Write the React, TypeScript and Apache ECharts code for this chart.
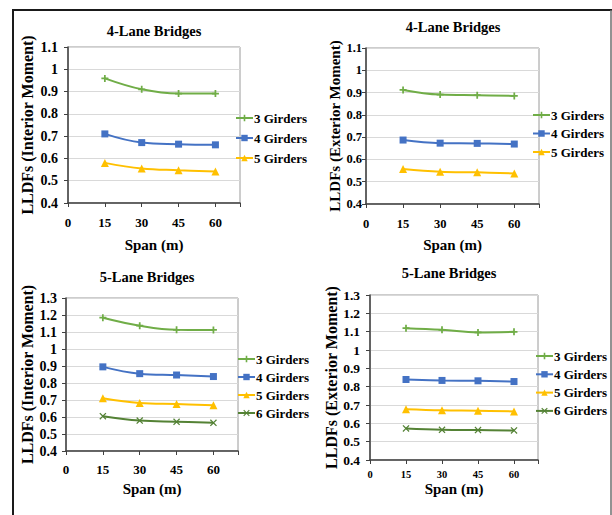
import React, { useEffect, useRef } from 'react';
import * as echarts from 'echarts';

const spans = [15, 30, 45, 60];
const seriesNames = ['3 Girders', '4 Girders', '5 Girders', '6 Girders'];
const titles = ['4-Lane Bridges', '4-Lane Bridges', '5-Lane Bridges', '5-Lane Bridges'];
const yNames = ['LLDFs (Interior Moment)', 'LLDFs (Exterior Moment)', 'LLDFs (Interior Moment)', 'LLDFs (Exterior Moment)'];
const xName = 'Span (m)';

const p1Girders3 = [0.959, 0.91, 0.891, 0.891];
const p1Girders4 = [0.71, 0.671, 0.664, 0.661];
const p1Girders5 = [0.58, 0.555, 0.547, 0.541];

const p2Girders3 = [0.912, 0.891, 0.888, 0.885];
const p2Girders4 = [0.687, 0.673, 0.672, 0.669];
const p2Girders5 = [0.557, 0.545, 0.542, 0.537];

const p3Girders3 = [1.184, 1.137, 1.113, 1.112];
const p3Girders4 = [0.895, 0.855, 0.847, 0.838];
const p3Girders5 = [0.71, 0.682, 0.676, 0.669];
const p3Girders6 = [0.605, 0.579, 0.572, 0.566];

const p4Girders3 = [1.119, 1.11, 1.096, 1.099];
const p4Girders4 = [0.839, 0.834, 0.832, 0.828];
const p4Girders5 = [0.677, 0.671, 0.669, 0.665];
const p4Girders6 = [0.572, 0.565, 0.563, 0.561];

const colors = ['#70AD47', '#4472C4', '#FFC000', '#548235'];
const symbols = [
  'path://M3,0H5V3H8V5H5V8H3V5H0V3H3Z',
  'rect',
  'triangle',
  'path://M1,0L4,3L7,0L8,1L5,4L8,7L7,8L4,5L1,8L0,7L3,4L0,1Z',
];
const symbolSizes = [7, 7, 8, 7];

const FONT = "'Liberation Serif', 'Times New Roman', serif";

const panelData = [
  [p1Girders3, p1Girders4, p1Girders5],
  [p2Girders3, p2Girders4, p2Girders5],
  [p3Girders3, p3Girders4, p3Girders5, p3Girders6],
  [p4Girders3, p4Girders4, p4Girders5, p4Girders6],
];
const yMaxes = [1.1, 1.1, 1.3, 1.3];

const layout = [
  { grid: { left: 68, top: 47, width: 172, height: 156 }, titleX: 154, titleY: 31, legendLeft: 235, legendTop: 111, legendGap: 6, yLabelMargin: 10, yLabelSize: 14, yNameGap: 33, yNameSize: 16, xLabelMargin: 13, xLabelSize: 13, xNameGap: 34 },
  { grid: { left: 366, top: 48, width: 173, height: 156 }, titleX: 453, titleY: 27, legendLeft: 532, legendTop: 108, legendGap: 4.5, yLabelMargin: 4, yLabelSize: 12.5, yNameGap: 24, yNameSize: 15, xLabelMargin: 13, xLabelSize: 12.5, xNameGap: 33 },
  { grid: { left: 66, top: 298, width: 172, height: 153 }, titleX: 147, titleY: 277, legendLeft: 237, legendTop: 352, legendGap: 4, yLabelMargin: 9, yLabelSize: 14, yNameGap: 30, yNameSize: 16, xLabelMargin: 12, xLabelSize: 13, xNameGap: 30 },
  { grid: { left: 370, top: 295, width: 168, height: 165 }, titleX: 449, titleY: 273, legendLeft: 535, legendTop: 349, legendGap: 4.3, yLabelMargin: 10, yLabelSize: 13.5, yNameGap: 28, yNameSize: 16, xLabelMargin: 9, xLabelSize: 10.5, xNameGap: 21 },
];

function buildOption() {
  const grid: any[] = [];
  const xAxis: any[] = [];
  const yAxis: any[] = [];
  const series: any[] = [];
  const legend: any[] = [];
  const graphic: any[] = [];

  panelData.forEach((sets, i) => {
    const L = layout[i];
    grid.push({ ...L.grid, show: true, borderColor: '#9a9a9a', borderWidth: 1, backgroundColor: 'transparent', containLabel: false });
    xAxis.push({
      type: 'value', gridIndex: i, min: 0, max: 70, interval: 15,
      name: xName, nameLocation: 'middle', nameGap: L.xNameGap,
      nameTextStyle: { fontFamily: FONT, fontWeight: 'bold', fontSize: 15, color: '#000' },
      axisLine: { show: true, onZero: false, lineStyle: { color: '#404040', width: 1.5 } },
      axisTick: { show: true, length: 4, lineStyle: { color: '#404040' } },
      splitLine: { show: false },
      axisLabel: {
        margin: L.xLabelMargin, fontFamily: FONT, fontWeight: 'bold', fontSize: L.xLabelSize, color: '#000',
        formatter: (v: number) => (v > 60 ? '' : String(v)),
      },
    });
    yAxis.push({
      type: 'value', gridIndex: i, min: 0.4, max: yMaxes[i], interval: 0.1,
      name: yNames[i], nameLocation: 'middle', nameGap: L.yNameGap,
      nameTextStyle: { fontFamily: FONT, fontWeight: 'bold', fontSize: L.yNameSize, color: '#000' },
      axisLine: { show: true, onZero: false, lineStyle: { color: '#404040', width: 1.5 } },
      axisTick: { show: true, length: 4, lineStyle: { color: '#404040' } },
      splitLine: { show: true, lineStyle: { color: '#d9d9d9', width: 1 } },
      axisLabel: {
        margin: L.yLabelMargin, fontFamily: FONT, fontWeight: 'bold', fontSize: L.yLabelSize, color: '#000',
        formatter: (v: number) => String(parseFloat(v.toFixed(1))),
      },
    });
    const names: string[] = [];
    sets.forEach((vals, k) => {
      names.push(seriesNames[k]);
      series.push({
        type: 'line', name: seriesNames[k], xAxisIndex: i, yAxisIndex: i,
        data: spans.map((s, j) => [s, vals[j]]),
        smooth: 0.4,
        symbol: symbols[k], symbolSize: symbolSizes[k],
        lineStyle: { color: colors[k], width: 2 },
        itemStyle: { color: colors[k] },
      });
    });
    legend.push({
      orient: 'vertical', left: L.legendLeft, top: L.legendTop, padding: 0,
      itemGap: L.legendGap, itemWidth: 17, itemHeight: 8,
      data: names,
      selectedMode: false,
      textStyle: { fontFamily: FONT, fontWeight: 'bold', fontSize: 13, color: '#000', lineHeight: 14, padding: [0, 0, 0, -4] },
    });
    graphic.push({
      type: 'text', x: L.titleX, y: L.titleY, silent: true,
      style: { text: titles[i], align: 'center', verticalAlign: 'middle', textAlign: 'center', textVerticalAlign: 'middle', fontFamily: FONT, fontWeight: 'bold', fontSize: 14.5, fill: '#000' },
    });
  });

  graphic.push(
    { type: 'line', silent: true, shape: { x1: 12, y1: 10, x2: 612, y2: 10 }, style: { stroke: '#1a1a1a', lineWidth: 2 } },
    { type: 'line', silent: true, shape: { x1: 13, y1: 10, x2: 13, y2: 515 }, style: { stroke: '#1a1a1a', lineWidth: 2 } },
    { type: 'line', silent: true, shape: { x1: 611, y1: 10, x2: 611, y2: 515 }, style: { stroke: '#6e6e6e', lineWidth: 1.5 } },
  );

  return {
    animation: false,
    backgroundColor: '#ffffff',
    grid, xAxis, yAxis, series, legend, graphic,
  };
}

export default function App() {
  const ref = useRef<HTMLDivElement>(null);
  useEffect(() => {
    if (!ref.current) return;
    const chart = echarts.init(ref.current, null, { renderer: 'svg' });
    chart.setOption(buildOption() as any);
    return () => chart.dispose();
  }, []);
  return (
    <div
      ref={ref}
      style={{ position: 'absolute', left: 0, top: 0, width: 612, height: 515, background: '#fff' }}
    />
  );
}
